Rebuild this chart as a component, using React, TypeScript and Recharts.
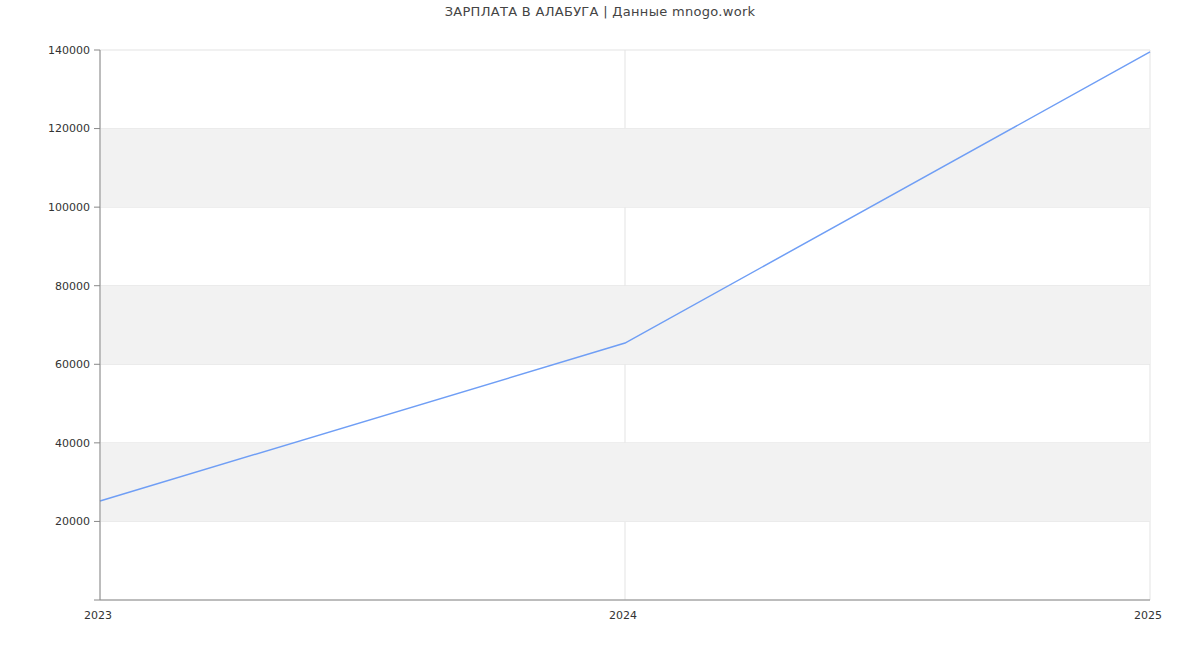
import {
  LineChart,
  Line,
  XAxis,
  YAxis,
  CartesianGrid,
  ReferenceArea,
} from 'recharts'

const years = [2023, 2024, 2025]
const salary = [25200, 65400, 139500]
const yTicks = [0, 20000, 40000, 60000, 80000, 100000, 120000, 140000]
// полосы фона (чередование)
const bands = [
  [20000, 40000],
  [60000, 80000],
  [100000, 120000],
]

const data = years.map((y, i) => ({ year: y, value: salary[i] }))

const font = '"DejaVu Sans", sans-serif'

export default function App() {
  return (
    <div style={{ position: 'absolute', left: 0, top: 0, width: 1200, height: 650, background: '#fff', fontFamily: font }}>
      <div
        style={{
          position: 'absolute',
          top: 4,
          width: 1200,
          textAlign: 'center',
          fontSize: 13,
          letterSpacing: 0.3,
          color: '#444',
        }}
      >
        ЗАРПЛАТА В АЛАБУГА | Данные mnogo.work
      </div>
      <LineChart
        width={1200}
        height={650}
        data={data}
        margin={{ top: 50, right: 50, bottom: 20, left: 40 }}
      >
        {bands.map(([a, b]) => (
          <ReferenceArea key={a} y1={a} y2={b} fill="#f2f2f2" fillOpacity={1} stroke="none" />
        ))}
        <CartesianGrid stroke="#e3e3e3" horizontalValues={yTicks} verticalValues={years} />
        <XAxis
          dataKey="year"
          type="number"
          domain={[2023, 2025]}
          ticks={years}
          tickLine={false}
          axisLine={{ stroke: '#888' }}
          tick={{ fill: '#333', fontSize: 11, fontFamily: font, dx: -2 }}
          tickMargin={5}
          height={30}
        />
        <YAxis
          type="number"
          domain={[0, 140000]}
          ticks={yTicks}
          tickFormatter={(v: number) => (v === 0 ? '' : String(v))}
          axisLine={{ stroke: '#888' }}
          tickLine={{ stroke: '#888' }}
          tickSize={6}
          tickMargin={4}
          tick={{ fill: '#333', fontSize: 11, fontFamily: font }}
          width={60}
        />
        <Line
          type="linear"
          dataKey="value"
          stroke="#6f9ef5"
          strokeWidth={1.5}
          dot={false}
          isAnimationActive={false}
        />
      </LineChart>
    </div>
  )
}
